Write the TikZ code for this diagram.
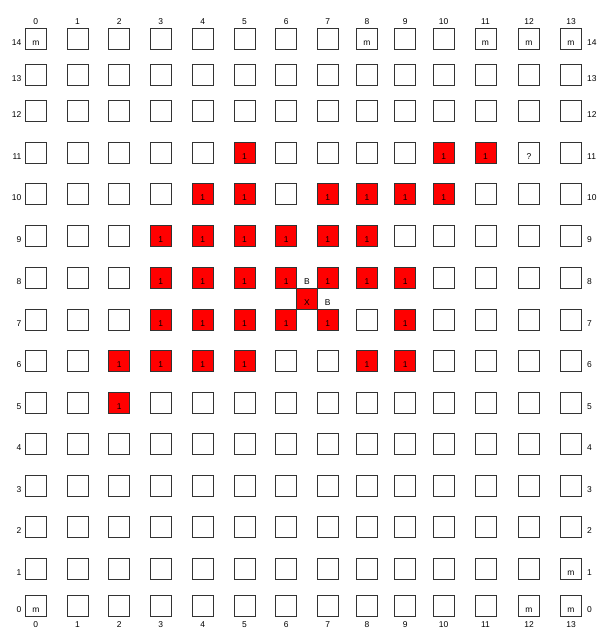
\documentclass[tikz,border=0pt]{standalone}
\usepackage{fontspec}
\setmainfont{Liberation Sans}
\usetikzlibrary{calc}

\begin{document}
\begin{tikzpicture}[x=1bp,y=-1bp,
  cell/.style={draw=black!80,line width=0.8bp,minimum size=21bp,inner sep=0pt,outer sep=0pt},
  hit/.style={cell,fill=red},
  tag/.style={font=\fontsize{8.5}{10}\selectfont,anchor=base,inner sep=0pt}]
  \useasboundingbox (0,0) rectangle (600,628);
  % columns and their labels
  \foreach \c/\x in {0/35.8,1/77.5,2/119.2,3/160.8,4/202.8,5/244.5,6/286.2,
                     7/327.8,8/367,9/405.3,10/443.7,11/485.5,12/529,13/571}{
    \coordinate (col-\c) at (\x,0);
    \node[tag] (top-\c) at (\x,25) {\c};
    \node[tag] (bot-\c) at (\x,627) {\c};
  }
  % rows and their labels
  \foreach \r/\y in {14/38.8,13/74.8,12/111,11/152.8,10/193.8,9/236.2,8/277.8,
                     7/319.5,6/360.8,5/402.5,4/443.5,3/485.5,2/526.7,1/568.8,0/605.5}{
    \coordinate (row-\r) at (0,\y);
    \node[tag,anchor=base east] (left-\r) at (21.5,\y+6.5) {\r};
    \node[tag,anchor=base west] (right-\r) at (587,\y+6.5) {\r};
  }
  % the grid
  \foreach \c in {0,...,13}
    \foreach \r in {0,...,14}
      \node[cell] (cell-\c-\r) at (col-\c |- row-\r) {};
  % cells marked 1
  \foreach \c/\r in {5/11,10/11,11/11,
                     4/10,5/10,7/10,8/10,9/10,10/10,
                     3/9,4/9,5/9,6/9,7/9,8/9,
                     3/8,4/8,5/8,6/8,7/8,8/8,9/8,
                     3/7,4/7,5/7,6/7,7/7,9/7,
                     2/6,3/6,4/6,5/6,8/6,9/6,
                     2/5}{
    \node[hit] (hit-\c-\r) at (cell-\c-\r) {};
    \node[tag] (one-\c-\r) at ($(hit-\c-\r.south)+(0,-4)$) {1};
  }
  % cells marked m
  \foreach \c/\r in {0/14,8/14,11/14,12/14,13/14,13/1,0/0,12/0,13/0}
    \node[tag] (m-\c-\r) at ($(cell-\c-\r.south)+(0,-4)$) {m};
  \node[tag] (query) at ($(cell-12-11.south)+(0,-4)$) {?};
  % X between the cells and its B marks
  \node[hit] (xcell) at ($(cell-6-8)!0.5!(cell-7-7)$) {};
  \node[tag] (xmark) at ($(xcell.south)+(0,-4)$) {X};
  \node[tag] (b-top) at ($(cell-6-8.south)!0.5!(cell-7-8.south)+(0,-4)$) {B};
  \node[tag] (b-right) at ($(cell-7-8.south)!0.5!(cell-7-7.south)+(0,-4)$) {B};
\end{tikzpicture}
\end{document}
